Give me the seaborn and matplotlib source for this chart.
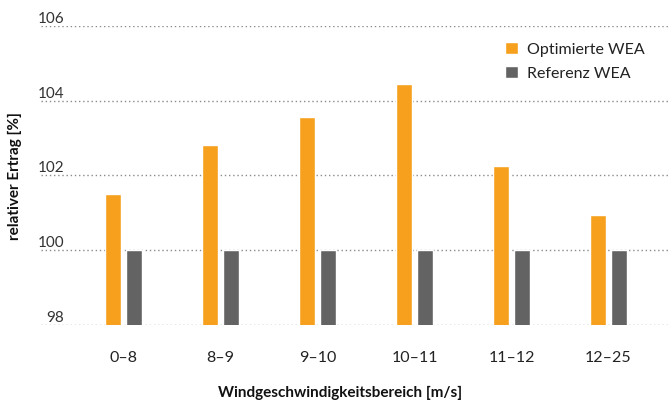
import matplotlib
matplotlib.use("Agg")
import matplotlib.pyplot as plt
import matplotlib.transforms as mtransforms
import seaborn as sns
import pandas as pd

categories = ["0–8", "8–9", "9–10", "10–11", "11–12", "12–25"]
optimiert = [101.50, 102.81, 103.56, 104.44, 102.25, 100.93]
referenz = [100.0, 100.0, 100.0, 100.0, 100.0, 100.0]
series_names = ["Optimierte WEA", "Referenz WEA"]
y_ticks = [98, 100, 102, 104, 106]
y_label = "relativer Ertrag [%]"
x_label = "Windgeschwindigkeitsbereich [m/s]"

colors = ["#F7A01E", "#636363"]

sns.set_theme(style="white")
plt.rcParams["font.family"] = ["Lato", "DejaVu Sans"]

df = pd.DataFrame({
    "Bereich": categories * 2,
    "Wert": optimiert + referenz,
    "Serie": [series_names[0]] * len(categories) + [series_names[1]] * len(categories),
})

W, H = 669, 403
fig = plt.figure(figsize=(W / 100, H / 100), dpi=100)
ax = fig.add_axes([40.7 / W, 1 - 325 / H, (669 - 40.7) / W, (325 - 25.7) / H])

sns.barplot(data=df, x="Bereich", y="Wert", hue="Serie", order=categories,
            hue_order=series_names, palette=colors, width=0.42, gap=0.22,
            saturation=1, ax=ax, legend=True)

ax.set_ylim(98, 106)
ax.set_xlim(-0.854, 5.624)
ax.set_yticks(y_ticks)
ax.set_yticklabels([])
ax.tick_params(axis="y", length=0)
ax.tick_params(axis="x", length=0, labelsize=11.5, labelcolor="#222222", pad=19)
for s in ax.spines.values():
    s.set_visible(False)
ax.set_axisbelow(True)
ax.yaxis.grid(True, linestyle=(0, (1, 2)), color="#8a8a8a", linewidth=1)
ax.set_xlabel("")
ax.set_ylabel("")

trans = mtransforms.blended_transform_factory(ax.transAxes, ax.transData)
for v in y_ticks:
    ax.text((64 - 40.7) / (669 - 40.7), v, str(v), transform=trans, ha="right",
            va="bottom", fontsize=11, color="#333333")

fig.text(340 / W, 1 - 393 / H, x_label, ha="center", va="center",
         fontsize=11, fontweight="bold", color="#111111")
fig.text(15 / W, 1 - 176 / H, y_label, ha="center", va="center", rotation=90,
         fontsize=11, fontweight="bold", color="#111111")

leg = ax.legend(loc="upper left", bbox_to_anchor=((505 - 40.7) / (669 - 40.7), 1 - (42 - 25.7) / (325 - 25.7)),
                frameon=False, fontsize=11.5, handlelength=0.8, handleheight=0.8,
                handletextpad=0.6, labelspacing=0.6, borderaxespad=0, borderpad=0)
for t in leg.get_texts():
    t.set_color("#222222")

fig.savefig("out.png", dpi=100)
